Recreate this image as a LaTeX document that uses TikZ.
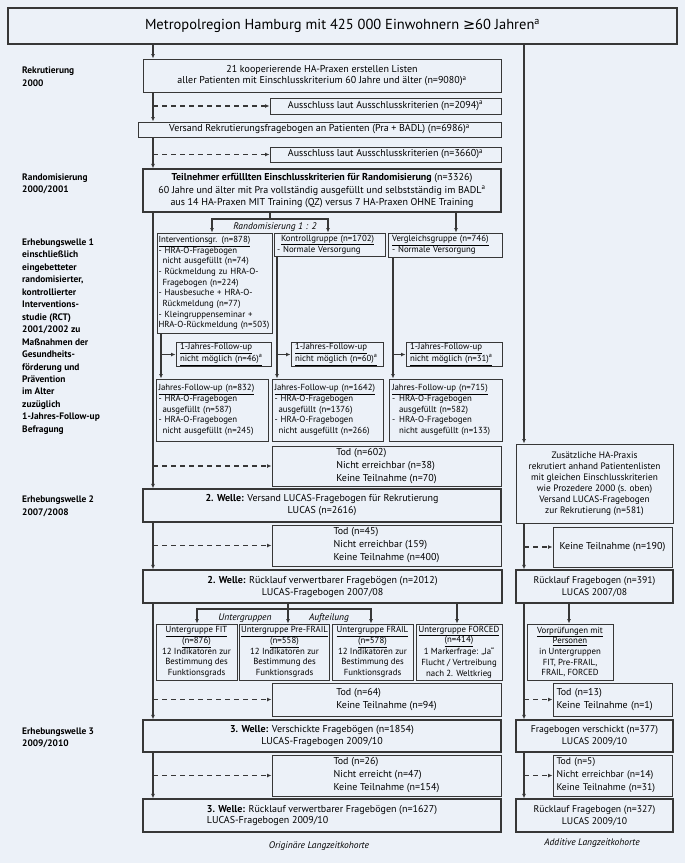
\documentclass[tikz,border=0pt]{standalone}
\usepackage{fontspec}
\setmainfont{PT Sans}
\newfontfamily\symf{DejaVu Sans}
\usetikzlibrary{arrows.meta}
\definecolor{bgc}{RGB}{236,241,248}
\definecolor{lnc}{RGB}{55,55,55}
\newcommand\BX[7][]{%
  \pgfmathsetmacro\bxw{#5-#3}\pgfmathsetmacro\bxh{#6-#4}%
  \pgfmathsetmacro\bxx{(#3+#5)/2}\pgfmathsetmacro\bxy{(#4+#6)/2}%
  \node[box,minimum width=\bxw pt,minimum height=\bxh pt,#1] (#2) at (\bxx,\bxy) {#7};}
\newcommand\BL[8][]{%
  \pgfmathsetmacro\bxw{#5-#3}\pgfmathsetmacro\bxh{#6-#4}%
  \pgfmathsetmacro\bxx{(#3+#5)/2}\pgfmathsetmacro\bxy{(#4+#6)/2}%
  \pgfmathsetmacro\bxt{#5-#3-2*#7}%
  \node[box,align=left,inner xsep=#7pt,text width=\bxt pt,minimum width=\bxw pt,minimum height=\bxh pt,#1] (#2) at (\bxx,\bxy) {#8};}
\begin{document}
\begin{tikzpicture}[x=1pt,y=-1pt,
  box/.style={draw=lnc,line width=1pt,inner sep=1.5pt,align=center,font=\fontsize{10}{11.5}\selectfont},
  mbox/.style={line width=1.3pt},
  lbl/.style={font=\bfseries\fontsize{9.4}{12.47}\selectfont,align=left,anchor=west,inner sep=0pt},
  conn/.style={draw=lnc,line width=1.2pt},
  arr/.style={conn,-{Latex[length=4.5pt,width=4pt]}},
  darr/.style={arr,dash pattern=on 5pt off 4pt},
  tod/.style={align=left,font=\fontsize{10}{13}\selectfont},
  small/.style={font=\fontsize{8.8}{10.7}\selectfont},
  mid/.style={font=\fontsize{9.3}{11}\selectfont},
  ital/.style={font=\itshape\fontsize{9.5}{11}\selectfont,inner sep=0pt}]
\fill[bgc] (0,0) rectangle (685,863);
\useasboundingbox (0,0) rectangle (685,863);

% ---------- boxes ----------
\BX[mbox,font=\fontsize{14.5}{17}\selectfont]{TOP}{8}{8}{677}{44}{Metropolregion Hamburg mit 425 000 Einwohnern {\symf ≥}60 Jahren\textsuperscript{a}}
\BX{B1}{143}{59}{501}{92}{21 kooperierende HA-Praxen erstellen Listen\\aller Patienten mit Einschlusskriterium 60 Jahre und älter (n=9080)\textsuperscript{a}}
\BX{E1}{270}{98}{501}{114}{Ausschluss laut Ausschlusskriterien (n=2094)\textsuperscript{a}}
\BX{VS}{138}{122}{501}{137}{Versand Rekrutierungsfragebogen an Patienten (Pra + BADL) (n=6986)\textsuperscript{a}}
\BX{E2}{270}{147}{501}{162}{Ausschluss laut Ausschlusskriterien (n=3660)\textsuperscript{a}}
\BX[mbox,font=\fontsize{10}{12.3}\selectfont]{TN}{143}{169}{501}{212}{\textbf{Teilnehmer erfülllten Einschlusskriterien für Randomisierung} (n=3326)\\60 Jahre und älter mit Pra vollständig ausgefüllt und selbstständig im BADL\textsuperscript{a}\\aus 14 HA-Praxen MIT Training (QZ) versus 7 HA-Praxen OHNE Training}

\BL[small]{IV}{157}{233}{272}{333}{1.5}{\underline{Interventionsgr. (n=878)}\\- HRA-O-Fragebogen\\\hspace*{4pt}nicht ausgefüllt (n=74)\\- Rückmeldung zu HRA-O-\\\hspace*{4pt}Fragebogen (n=224)\\- Hausbesuche + HRA-O-\\\hspace*{4pt}Rückmeldung (n=77)\\- Kleingruppenseminar +\\HRA-O-Rückmeldung (n=503)}
\BL[small]{KG}{274}{233}{385}{256}{3}{\hspace*{4pt}\underline{Kontrollgruppe (n=1702)}\\- Normale Versorgung}
\BL[small]{VG}{388}{233}{502}{257}{4}{\underline{Vergleichsgruppe (n=746)}\\- Normale Versorgung}
\BL[small]{FU1}{176}{343}{271}{366}{4}{\underline{1-Jahres-Follow-up}\\\underline{nicht möglich (n=46)\textsuperscript{a}}}
\BL[small]{FU2}{291}{343}{383}{366}{4}{\underline{1-Jahres-Follow-up}\\\underline{nicht möglich (n=60)\textsuperscript{a}}}
\BL[small]{FU3}{406}{343}{502}{366}{4}{\underline{1-Jahres-Follow-up}\\\underline{nicht möglich (n=31)\textsuperscript{a}}}
\BL[small]{JF1}{156}{379}{268}{441}{2.5}{\underline{Jahres-Follow-up (n=832)}\\- HRA-O-Fragebogen\\\hspace*{4pt}ausgefüllt (n=587)\\- HRA-O-Fragebogen\\\hspace*{4pt}nicht ausgefüllt (n=245)}
\BL[small]{JF2}{272}{379}{383}{441}{2.5}{\underline{Jahres-Follow-up (n=1642)}\\- HRA-O-Fragebogen\\\hspace*{4pt}ausgefüllt (n=1376)\\- HRA-O-Fragebogen\\\hspace*{4pt}nicht ausgefüllt (n=266)}
\BL[small]{JF3}{389}{379}{502}{441}{3}{\underline{Jahres-Follow-up (n=715)}\\-\hspace*{4pt}HRA-O-Fragebogen\\\hspace*{7pt}ausgefüllt (n=582)\\-\hspace*{4pt}HRA-O-Fragebogen\\\hspace*{7pt}nicht ausgefüllt (n=133)}

\BX[tod]{T602}{272}{446}{501}{486}{Tod (n=602)\\Nicht erreichbar (n=38)\\Keine Teilnahme (n=70)}
\BX[mid]{ZUS}{516}{444}{673}{523}{Zusätzliche HA-Praxis\\rekrutiert anhand Patientenlisten\\mit gleichen Einschlusskriterien\\wie Prozedere 2000 (s. oben)\\Versand LUCAS-Fragebogen\\zur Rekrutierung (n=581)}
\BX[mbox,font=\fontsize{10}{12}\selectfont]{W2A}{143}{489}{501}{522}{\textbf{2. Welle:} Versand LUCAS-Fragebogen für Rekrutierung\\LUCAS (n=2616)}
\BX[tod]{T45}{272}{525}{501}{566}{Tod (n=45)\\Nicht erreichbar (159)\\Keine Teilnahme (n=400)}
\BX{K190}{553}{527}{672}{567}{Keine Teilnahme (n=190)}
\BX[mbox,font=\fontsize{10}{12}\selectfont]{W2B}{143}{570}{502}{603}{\textbf{2. Welle:} Rücklauf verwertbarer Fragebögen (n=2012)\\LUCAS-Fragebogen 2007/08}
\BX[mbox,font=\fontsize{9.7}{12}\selectfont]{R391}{516}{570}{673}{603}{Rücklauf Fragebogen (n=391)\\LUCAS 2007/08}

\BX[small]{FIT}{156}{624}{237}{680}{\underline{Untergruppe FIT}\\\underline{(n=876)}\\12 Indikatoren zur\\Bestimmung des\\Funktionsgrads}
\BX[small]{PRE}{240}{624}{329}{680}{\underline{Untergruppe Pre-FRAIL}\\\underline{(n=558)}\\12 Indikatoren zur\\Bestimmung des\\Funktionsgrads}
\BX[small]{FRL}{332}{624}{413}{680}{\underline{Untergruppe FRAIL}\\\underline{(n=578)}\\12 Indikatoren zur\\Bestimmung des\\Funktionsgrads}
\BX[small]{FRC}{416}{624}{502}{680}{\underline{Untergruppe FORCED}\\\underline{(n=414)}\\1 Markerfrage: „Ja“\\Flucht / Vertreibung\\nach 2. Weltkrieg}
\BX[small]{VOR}{527}{624}{613}{680}{\underline{Vorprüfungen mit}\\\underline{Personen}\\in Untergruppen\\FIT, Pre-FRAIL,\\FRAIL, FORCED}

\BX[tod]{T64}{272}{683}{501}{716}{Tod (n=64)\\Keine Teilnahme (n=94)}
\BL[tod]{T13}{553}{683}{672}{716}{3.5}{Tod (n=13)\\Keine Teilnahme (n=1)}
\BX[mbox,font=\fontsize{10}{12}\selectfont]{W3A}{143}{720}{501}{752}{\textbf{3. Welle:} Verschickte Fragebögen (n=1854)\\LUCAS-Fragebogen 2009/10}
\BX[mbox,font=\fontsize{9.7}{12}\selectfont]{V377}{516}{720}{673}{752}{Fragebogen verschickt (n=377)\\LUCAS 2009/10}
\BX[tod]{T26}{272}{755}{501}{796}{Tod (n=26)\\Nicht erreicht (n=47)\\Keine Teilnahme (n=154)}
\BL[tod,font=\fontsize{9.7}{13}\selectfont]{T5}{553}{755}{672}{796}{3.5}{Tod (n=5)\\Nicht erreichbar (n=14)\\Keine Teilnahme (n=31)}
\BX[mbox,align=left]{W3B}{143}{799}{501}{832}{\textbf{3. Welle:} Rücklauf verwertbarer Fragebögen (n=1627)\\LUCAS-Fragebogen 2009/10}
\BX[mbox,font=\fontsize{9.7}{11.5}\selectfont]{R327}{516}{799}{673}{832}{Rücklauf Fragebogen (n=327)\\LUCAS 2009/10}

% ---------- labels ----------
\node[lbl] (L1) at (22,76.5) {Rekrutierung\\2000};
\node[lbl] (L2) at (22,184) {Randomisierung\\2000/2001};
\node[lbl] (L3) at (22,336.5) {Erhebungswelle 1\\einschließlich\\eingebetteter\\randomisierter,\\kontrollierter\\Interventions-\\studie (RCT)\\2001/2002 zu\\Maßnahmen der\\Gesundheits-\\förderung und\\Prävention\\im Alter\\zuzüglich\\1-Jahres-Follow-up\\Befragung};
\node[lbl] (L4) at (22,506.5) {Erhebungswelle 2\\2007/2008};
\node[lbl] (L5) at (22,738) {Erhebungswelle 3\\2009/2010};
\node[ital] (RL) at (275,227.5) {Randomisierung 1 : 2};
\node[ital] (UG) at (245,618) {Untergruppen};
\node[ital] (AU) at (329,618) {Aufteilung};
\node[ital] (OL) at (319,846) {Originäre Langzeitkohorte};
\node[ital] (AL) at (592,843) {Additive Langzeitkohorte};

% ---------- connectors ----------
\coordinate (LX) at (153,0);
\coordinate (RX) at (524,0);
\draw[arr] (TOP.south -| LX) -- (B1.north -| LX);
\draw[arr] (B1.south -| LX) -- (VS.north -| LX);
\draw[darr] (LX |- E1.west) -- (E1.west);
\draw[arr] (VS.south -| LX) -- (TN.north -| LX);
\draw[darr] (LX |- E2.west) -- (E2.west);
\draw[arr] (TN.south -| LX) -- (W2A.north -| LX);
\draw[darr] (LX |- T602.west) -- (T602.west);
\draw[arr] (W2A.south -| LX) -- (W2B.north -| LX);
\draw[darr] (LX |- T45.west) -- (T45.west);
\draw[arr] (W2B.south -| LX) -- (W3A.north -| LX);
\draw[darr] (LX |- T64.west) -- (T64.west);
\draw[arr] (W3A.south -| LX) -- (W3B.north -| LX);
\draw[darr] (LX |- T26.west) -- (T26.west);

\draw[arr] (TOP.south -| RX) -- (ZUS.north -| RX);
\draw[arr] (ZUS.south -| RX) -- (R391.north -| RX);
\draw[darr] (RX |- K190.west) -- (K190.west);
\draw[arr] (R391.south -| RX) -- (V377.north -| RX);
\draw[darr] (RX |- T13.west) -- (T13.west);
\draw[arr] (V377.south -| RX) -- (R327.north -| RX);
\draw[darr] (RX |- T5.west) -- (T5.west);

% randomisation bracket
\coordinate (RBC) at (270,219);
\coordinate (RBL) at (212,219);
\coordinate (RBR) at (328,219);
\draw[conn] (TN.south -| RBC) -- (RBC);
\draw[arr] (RBC) -| (IV.north -| RBL);
\draw[arr] (RBC) -| (KG.north -| RBR);
\coordinate (VAX) at (456,0);
\draw[arr] (TN.south -| VAX) -- (VG.north -| VAX);

% group branches
\coordinate (IVX) at (161,0);
\coordinate (KGX) at (277,0);
\coordinate (VGX) at (393,0);
\draw[arr] (IV.south -| IVX) -- (JF1.north -| IVX);
\draw[arr] (IVX |- FU1.west) -- (FU1.west);
\draw[arr] (KG.south -| KGX) -- (JF2.north -| KGX);
\draw[arr] (KGX |- FU2.west) -- (FU2.west);
\draw[arr] (VG.south -| VGX) -- (JF3.north -| VGX);
\draw[arr] (VGX |- FU3.west) -- (FU3.west);

% subgroup bracket
\coordinate (UC) at (288,609);
\coordinate (UL) at (197,609);
\coordinate (UR) at (371,609);
\draw[conn] (W2B.south -| UC) -- (UC);
\draw[arr] (UC) -| (FIT.north -| UL);
\draw[arr] (UC) -| (FRL.north -| UR);
\draw[arr] (UC) -- (PRE.north -| UC);
\coordinate (FAX) at (457,0);
\draw[arr] (W2B.south -| FAX) -- (FRC.north -| FAX);
\coordinate (VPX) at (569,0);
\draw[arr] (R391.south -| VPX) -- (VOR.north -| VPX);
\end{tikzpicture}
\end{document}
